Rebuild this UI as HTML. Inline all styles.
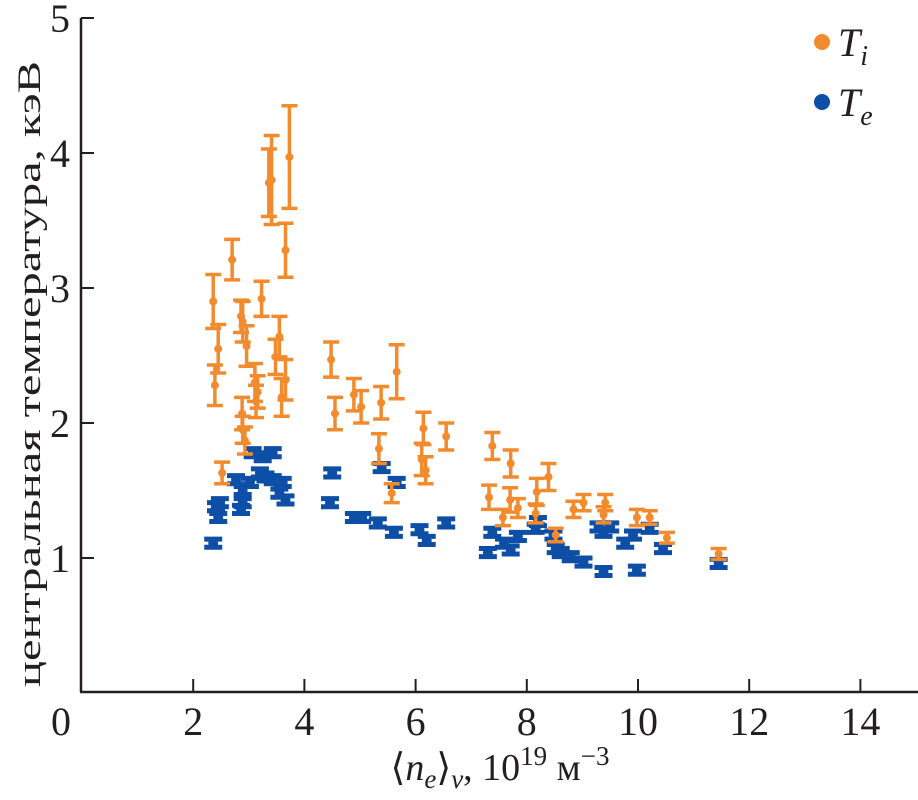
<!DOCTYPE html>
<html><head><meta charset="utf-8"><style>
html,body{margin:0;padding:0;background:#fff;}
svg{display:block;font-family:"Liberation Serif","DejaVu Serif",serif;}
</style></head><body>
<svg id="chart" width="918" height="800" xmlns="http://www.w3.org/2000/svg">
<g id="axes"></g>
<g id="marks"></g>
<g>
<circle cx="822" cy="42" r="8" fill="#f28a2e"/>
<text x="838" y="56" font-size="40" font-style="italic" fill="#231f20">T<tspan font-size="28" dy="9">i</tspan></text>
<circle cx="822" cy="102" r="8" fill="#0d4ea6"/>
<text x="838" y="116" font-size="40" font-style="italic" fill="#231f20">T<tspan font-size="28" dy="9">e</tspan></text>
</g>
<text transform="translate(40,374) rotate(-90)" text-anchor="middle" font-size="33" textLength="626" lengthAdjust="spacingAndGlyphs" fill="#231f20">центральная температура, кэВ</text>
<text x="500" y="780" text-anchor="middle" font-size="38" fill="#231f20">⟨<tspan font-style="italic">n</tspan><tspan font-style="italic" font-size="27" dy="8">e</tspan><tspan dy="-8">⟩</tspan><tspan font-style="italic" font-size="27" dy="8">v</tspan><tspan dy="-8">, 10</tspan><tspan font-size="27" dy="-15">19</tspan><tspan dy="15"> м</tspan><tspan font-size="27" dy="-15">−3</tspan></text>
</svg>
<script>
const xTicks=[0,2,4,6,8,10,12,14];
const yTicks=[1,2,3,4,5];
const tiX=[3.73,3.41,3.36,3.66,2.70,2.36,3.23,2.86,2.89,2.45,2.96,2.39,3.55,3.48,3.66,3.59,3.11,3.16,3.13,2.88,2.89,2.93,2.52,4.48,4.55,4.89,5.02,5.38,5.66,5.34,5.57,6.14,6.11,6.18,6.55,7.38,7.71,7.32,7.57,7.70,7.84,8.39,8.18,8.16,8.52,8.84,9.02,9.41,9.38,9.98,10.21,10.52,11.45];
const tiY=[3.97,3.80,3.78,3.28,3.21,2.90,2.92,2.79,2.75,2.55,2.57,2.28,2.64,2.49,2.32,2.19,2.30,2.23,2.16,2.07,1.95,1.87,1.63,2.47,2.07,2.21,2.12,2.15,2.38,1.81,1.48,1.96,1.73,1.65,1.90,1.83,1.70,1.45,1.30,1.43,1.37,1.60,1.49,1.33,1.17,1.36,1.41,1.41,1.32,1.30,1.30,1.15,1.03];
const tiErr=[0.38,0.33,0.25,0.2,0.15,0.2,0.13,0.12,0.15,0.18,0.15,0.15,0.15,0.13,0.15,0.14,0.14,0.12,0.12,0.12,0.1,0.1,0.08,0.13,0.12,0.12,0.12,0.12,0.2,0.11,0.07,0.12,0.12,0.1,0.1,0.1,0.1,0.09,0.06,0.09,0.07,0.1,0.1,0.07,0.05,0.06,0.06,0.06,0.06,0.06,0.05,0.04,0.04];
const teX=[2.36,2.41,2.45,2.48,3.07,3.43,3.25,2.77,2.89,2.89,3.30,3.43,3.61,3.66,3.55,3.02,3.20,2.86,4.50,4.46,4.89,5.04,5.32,5.39,5.66,5.61,6.07,6.20,6.55,7.38,7.30,7.59,7.71,7.84,8.16,8.20,8.52,8.48,8.61,8.79,9.02,9.29,9.38,9.50,9.38,9.77,9.91,9.98,10.21,10.45,11.45];
const teY=[1.11,1.38,1.30,1.41,1.78,1.78,1.75,1.58,1.50,1.41,1.60,1.58,1.56,1.43,1.48,1.56,1.63,1.36,1.63,1.41,1.30,1.30,1.26,1.67,1.56,1.19,1.21,1.13,1.26,1.19,1.04,1.11,1.06,1.16,1.22,1.27,1.07,1.17,1.04,1.01,0.97,1.23,1.19,1.23,0.90,1.11,1.17,0.91,1.22,1.07,0.96];
const teErr=0.03;
const NS="http://www.w3.org/2000/svg";
function xs(v){return 82+55.6*v;}
function ys(v){return 693-135*v;}
function mk(tag,attrs,parent){const e=document.createElementNS(NS,tag);for(const k in attrs)e.setAttribute(k,attrs[k]);parent.appendChild(e);return e;}
const axes=document.getElementById('axes');
let a=mk('line',{x1:81,y1:18,x2:81,y2:692,stroke:'#231f20','stroke-width':2.5},axes);


a=mk('line',{x1:80,y1:692,x2:918,y2:692,stroke:'#231f20','stroke-width':2.5},axes);


xTicks.forEach(t=>{
  if(t>0){const l=mk('line',{x1:xs(t),y1:692,x2:xs(t),y2:679,stroke:'#231f20','stroke-width':2},axes);
  
  }
  const tx=mk('text',{x:t===0?61:xs(t),y:735,'text-anchor':'middle','font-size':40,fill:'#231f20'},axes);
  tx.textContent=t;
  
  
});
yTicks.forEach(t=>{
  const l=mk('line',{x1:81,y1:ys(t),x2:94,y2:ys(t),stroke:'#231f20','stroke-width':2},axes);
  
  
  const tx=mk('text',{x:70,y:ys(t)+14,'text-anchor':'end','font-size':40,fill:'#231f20'},axes);
  tx.textContent=t;
  
  
});
const marks=document.getElementById('marks');
function point(x,y,e,color,name,cap,sw,r){
  const g=mk('g',{},marks);
  
  
  const cx=xs(x),y1=ys(y+e),y2=ys(y-e);
  mk('line',{x1:cx,y1:y1,x2:cx,y2:y2,stroke:color,'stroke-width':sw},g);
  mk('line',{x1:cx-cap,y1:y1,x2:cx+cap,y2:y1,stroke:color,'stroke-width':sw},g);
  mk('line',{x1:cx-cap,y1:y2,x2:cx+cap,y2:y2,stroke:color,'stroke-width':sw},g);
  mk('circle',{cx:cx,cy:ys(y),r:r,fill:color},g);
}
teX.forEach((x,i)=>point(x,teY[i],teErr,'#0d4ea6','te-point',9,5,5));
tiX.forEach((x,i)=>point(x,tiY[i],tiErr[i],'#f28a2e','ti-point',8,3.5,4));
</script>
</body></html>
